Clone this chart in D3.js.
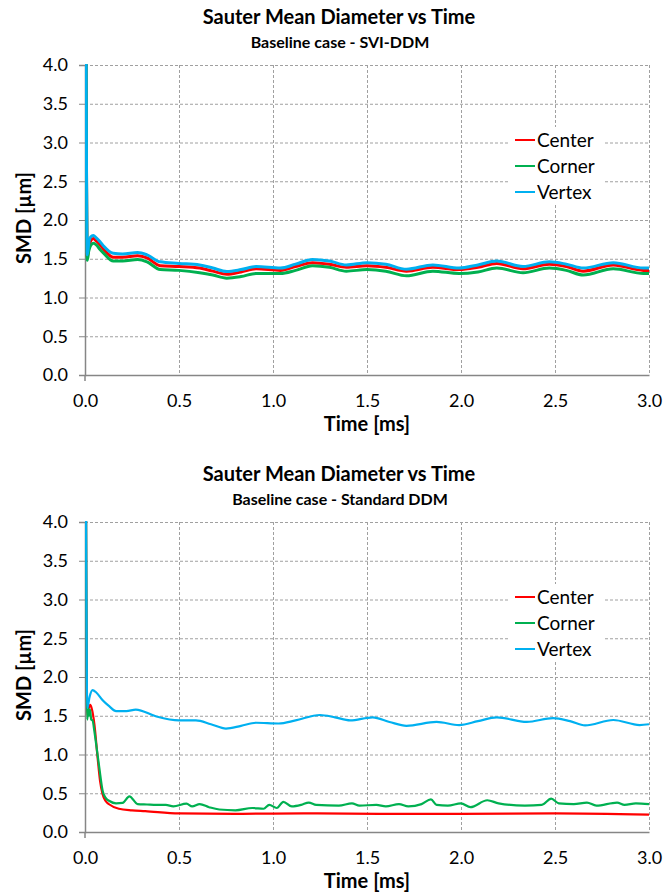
<!DOCTYPE html>
<html>
<head>
<meta charset="utf-8">
<script src="https://cdn.jsdelivr.net/npm/d3@7"></script>
<style>
  body { margin: 0; background: #fff; }
  svg { display: block; font-family: Lato, "Open Sans", sans-serif; }
</style>
</head>
<body>
<div id="chart"></div>
<script>
// ---- data ----
const seriesNames = ['Center', 'Corner', 'Vertex'];
const seriesColors = ['#ff0000', '#00b050', '#00b0f0'];
const yTicks = [0.0, 0.5, 1.0, 1.5, 2.0, 2.5, 3.0, 3.5, 4.0];
const xTicks = [0.0, 0.5, 1.0, 1.5, 2.0, 2.5, 3.0];

// SVI-DDM: all three series sampled at the same times
const sviTime = [0.003, 0.012, 0.02, 0.03, 0.044, 0.06, 0.08, 0.1, 0.15, 0.2, 0.28, 0.33, 0.4, 0.5, 0.61, 0.68, 0.754, 0.83, 0.91, 1.04, 1.12, 1.21, 1.3, 1.39, 1.5, 1.6, 1.71, 1.85, 1.99, 2.09, 2.19, 2.33, 2.47, 2.56, 2.65, 2.81, 2.97, 3.0];
const sviCenter = [6, 1.52, 1.65, 1.73, 1.76, 1.73, 1.68, 1.62, 1.52, 1.52, 1.54, 1.51, 1.41, 1.40, 1.38, 1.34, 1.30, 1.33, 1.37, 1.35, 1.40, 1.45, 1.43, 1.39, 1.41, 1.39, 1.34, 1.39, 1.36, 1.39, 1.44, 1.37, 1.43, 1.40, 1.34, 1.42, 1.35, 1.35];
const sviCorner = [6, 1.48, 1.6, 1.67, 1.70, 1.68, 1.62, 1.57, 1.47, 1.47, 1.49, 1.46, 1.36, 1.35, 1.32, 1.29, 1.25, 1.27, 1.31, 1.31, 1.35, 1.41, 1.39, 1.34, 1.36, 1.34, 1.28, 1.34, 1.31, 1.33, 1.38, 1.32, 1.38, 1.35, 1.29, 1.37, 1.31, 1.31];
const sviVertex = [6, 1.55, 1.7, 1.78, 1.80, 1.77, 1.72, 1.66, 1.57, 1.56, 1.58, 1.55, 1.46, 1.44, 1.42, 1.38, 1.335, 1.36, 1.40, 1.38, 1.43, 1.49, 1.47, 1.42, 1.45, 1.43, 1.365, 1.42, 1.38, 1.42, 1.47, 1.40, 1.46, 1.43, 1.38, 1.45, 1.38, 1.38];

// Standard DDM: each series has its own time samples
const stdCenterTime = [0.003, 0.012, 0.02, 0.028, 0.035, 0.05, 0.067, 0.08, 0.094, 0.11, 0.13, 0.18, 0.25, 0.32, 0.5, 0.8, 1.2, 1.6, 2.0, 2.5, 3.0];
const stdCenter = [6, 1.5, 1.6, 1.64, 1.6, 1.39, 0.96, 0.66, 0.485, 0.40, 0.355, 0.30, 0.28, 0.27, 0.24, 0.235, 0.24, 0.235, 0.235, 0.24, 0.225];
const stdCornerTime = [0.003, 0.012, 0.017, 0.022, 0.027, 0.033, 0.04, 0.05, 0.059, 0.076, 0.094, 0.11, 0.13, 0.165, 0.2, 0.236, 0.28, 0.33, 0.38, 0.43, 0.47, 0.54, 0.57, 0.61, 0.66, 0.714, 0.8, 0.89, 0.95, 0.98, 1.02, 1.055, 1.1, 1.15, 1.19, 1.23, 1.35, 1.42, 1.46, 1.55, 1.6, 1.67, 1.72, 1.79, 1.84, 1.87, 1.93, 2.0, 2.05, 2.14, 2.2, 2.34, 2.43, 2.48, 2.52, 2.6, 2.67, 2.72, 2.83, 2.87, 2.93, 3.0];
const stdCorner = [6, 1.45, 1.6, 1.5, 1.58, 1.45, 1.44, 1.3, 1.14, 0.83, 0.53, 0.44, 0.40, 0.37, 0.375, 0.46, 0.36, 0.355, 0.35, 0.35, 0.33, 0.365, 0.33, 0.36, 0.32, 0.29, 0.28, 0.31, 0.30, 0.35, 0.31, 0.39, 0.33, 0.35, 0.38, 0.35, 0.34, 0.37, 0.34, 0.35, 0.33, 0.36, 0.33, 0.36, 0.42, 0.35, 0.34, 0.37, 0.32, 0.41, 0.37, 0.34, 0.35, 0.43, 0.37, 0.36, 0.38, 0.34, 0.38, 0.35, 0.37, 0.36];
const stdVertexTime = [0.003, 0.012, 0.025, 0.04, 0.06, 0.094, 0.13, 0.165, 0.22, 0.27, 0.38, 0.5, 0.59, 0.67, 0.75, 0.83, 0.91, 1.03, 1.12, 1.25, 1.33, 1.41, 1.53, 1.62, 1.71, 1.87, 1.99, 2.09, 2.19, 2.35, 2.49, 2.58, 2.66, 2.81, 2.95, 3.0];
const stdVertex = [6, 1.6, 1.75, 1.83, 1.80, 1.70, 1.62, 1.56, 1.56, 1.58, 1.49, 1.44, 1.44, 1.39, 1.335, 1.37, 1.41, 1.40, 1.44, 1.51, 1.48, 1.44, 1.48, 1.42, 1.37, 1.42, 1.38, 1.43, 1.48, 1.42, 1.47, 1.43, 1.375, 1.445, 1.38, 1.39];

const zip = (t, v) => t.map((x, i) => ({ t: x, v: v[i] }));

const charts = [
    {
        id: 'svi',
        title: 'Sauter Mean Diameter vs Time',
        subtitle: 'Baseline case - SVI-DDM',
        top: 0,
        lineWidth: 3,
        series: [zip(sviTime, sviCenter), zip(sviTime, sviCorner), zip(sviTime, sviVertex)]
    },
    {
        id: 'std',
        title: 'Sauter Mean Diameter vs Time',
        subtitle: 'Baseline case - Standard DDM',
        top: 457,
        lineWidth: 2.2,
        series: [zip(stdCenterTime, stdCenter), zip(stdCornerTime, stdCorner), zip(stdVertexTime, stdVertex)]
    }
];

const W = 664, H = 896;
const svg = d3.select('#chart').append('svg').attr('width', W).attr('height', H);

const plot = { left: 85, right: 649, top: 65, bottom: 375 };

charts.forEach(cfg => {
    const g = svg.append('g').attr('transform', `translate(0,${cfg.top})`);

    const x = d3.scaleLinear().domain([0, 3]).range([plot.left, plot.right]);
    const y = d3.scaleLinear().domain([0, 4]).range([plot.bottom, plot.top]);

    // titles
    g.append('text')
        .attr('x', 339).attr('y', 24)
        .attr('text-anchor', 'middle')
        .style('font-size', '20px').style('font-weight', 'bold').style('fill', '#000')
        .text(cfg.title);
    g.append('text')
        .attr('x', 340).attr('y', 48)
        .attr('text-anchor', 'middle')
        .style('font-size', '16px').style('font-weight', 'bold').style('fill', '#000')
        .text(cfg.subtitle);

    // gridlines
    g.append('g').selectAll('line.hg')
        .data(yTicks.filter(d => d > 0))
        .enter().append('line')
        .attr('x1', plot.left).attr('x2', plot.right)
        .attr('y1', d => y(d) + 0.5).attr('y2', d => y(d) + 0.5)
        .style('stroke', '#a0a0a0').style('stroke-width', 1).style('stroke-dasharray', '3,2');
    g.append('g').selectAll('line.vg')
        .data(xTicks.filter(d => d > 0))
        .enter().append('line')
        .attr('x1', d => Math.round(x(d)) + 0.5).attr('x2', d => Math.round(x(d)) + 0.5)
        .attr('y1', plot.top).attr('y2', plot.bottom)
        .style('stroke', '#a0a0a0').style('stroke-width', 1).style('stroke-dasharray', '3,2');

    // axes
    const yAxis = g.append('g')
        .attr('transform', `translate(${plot.left},0)`)
        .call(d3.axisLeft(y).tickValues(yTicks).tickFormat(d3.format('.1f')).tickSizeOuter(0).tickSize(6).tickPadding(11));
    const xAxis = g.append('g')
        .attr('transform', `translate(0,${plot.bottom})`)
        .call(d3.axisBottom(x).tickValues(xTicks).tickFormat(d3.format('.1f')).tickSizeOuter(0).tickSize(0).tickPadding(19));
    [yAxis, xAxis].forEach(a => {
        a.selectAll('.domain').style('stroke', '#868686').style('stroke-width', 1.5);
        a.selectAll('.tick line').style('stroke', '#868686').style('stroke-width', 1);
        a.selectAll('text').style('font-size', '18px').style('fill', '#000').style('font-family', 'Lato, sans-serif');
    });
    // little tick below axis origin
    g.append('line')
        .attr('x1', plot.left).attr('x2', plot.left)
        .attr('y1', plot.bottom).attr('y2', plot.bottom + 6)
        .style('stroke', '#868686').style('stroke-width', 1.5);

    // axis titles
    g.append('text')
        .attr('transform', `translate(31,218) rotate(-90)`)
        .attr('text-anchor', 'middle')
        .style('font-size', '20px').style('font-weight', 'bold')
        .text('SMD [µm]');
    g.append('text')
        .attr('x', 367).attr('y', 431)
        .attr('text-anchor', 'middle')
        .style('font-size', '20px').style('font-weight', 'bold')
        .text('Time [ms]');

    // clip
    const clipId = 'clip-' + cfg.id;
    g.append('clipPath').attr('id', clipId)
        .append('rect')
        .attr('x', plot.left).attr('y', plot.top - 1)
        .attr('width', plot.right - plot.left + 1).attr('height', plot.bottom - plot.top + 1);

    const line = d3.line()
        .x(d => x(d.t))
        .y(d => y(d.v))
        .curve(d3.curveMonotoneX);

    g.append('g').attr('clip-path', `url(#${clipId})`)
        .selectAll('path')
        .data(cfg.series)
        .enter().append('path')
        .attr('d', line)
        .style('fill', 'none')
        .style('stroke', (d, i) => seriesColors[i])
        .style('stroke-width', cfg.lineWidth)
        .style('stroke-linejoin', 'round');

    // legend
    const lg = g.append('g').attr('transform', 'translate(508,127)');
    lg.append('rect')
        .attr('x', 0).attr('y', 0).attr('width', 96).attr('height', 78)
        .style('fill', '#fff');
    seriesNames.forEach((name, i) => {
        const ly = 13 + i * 26;
        lg.append('line')
            .attr('x1', 7).attr('x2', 27).attr('y1', ly).attr('y2', ly)
            .style('stroke', seriesColors[i]).style('stroke-width', 2);
        lg.append('text')
            .attr('x', 29).attr('y', ly + 7)
            .style('font-size', '19px').style('fill', '#000')
            .text(name);
    });
});
</script>
</body>
</html>
